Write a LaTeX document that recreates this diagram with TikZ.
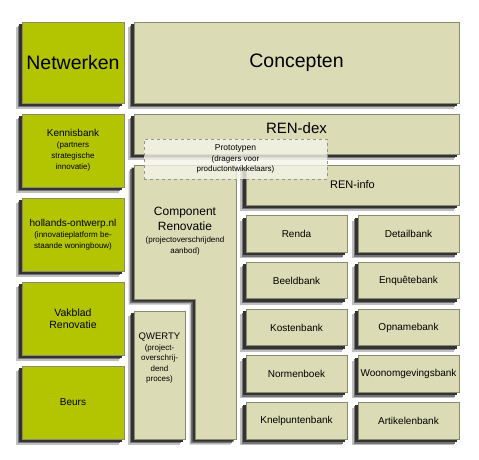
\documentclass[tikz,border=0pt]{standalone}
\usepackage{fontspec}
\setmainfont{Liberation Sans}
\usepackage{tikz}
\usetikzlibrary{positioning, backgrounds}
\definecolor{mygreen}{RGB}{179,196,0}
\definecolor{mybeige}{RGB}{219,219,181}
\definecolor{myedge}{RGB}{138,138,110}
\definecolor{mylight}{RGB}{244,244,232}
\definecolor{mydash}{RGB}{150,150,140}
\newcommand{\subtxt}[1]{{\fontsize{8}{10}\selectfont #1}}
\tikzset{
  greenbox/.style={rectangle, draw=myedge, fill=mygreen,
    minimum width=102pt, minimum height=73pt, align=center,
    font=\fontsize{10}{11}\selectfont, line width=0.6pt, inner sep=1pt},
  beigebox/.style={rectangle, draw=myedge, fill=mybeige,
    align=center, font=\fontsize{10}{11}\selectfont, line width=0.6pt, inner sep=1pt},
  bankbox/.style={beigebox, minimum width=101pt, minimum height=36.5pt},
  protobox/.style={rectangle, draw=mydash, dashed, fill=mylight, fill opacity=0.8,
    text opacity=1, align=center, minimum width=183pt, minimum height=40pt,
    font=\fontsize{8.5}{10.5}\selectfont, line width=0.6pt, inner sep=1pt}
}
\begin{document}
\begin{tikzpicture}[x=1pt, y=-1pt]
  \useasboundingbox (0,0) rectangle (479,460);
  % Netwerken column
  \node[greenbox, minimum height=81pt, font=\fontsize{19.5}{23}\selectfont] (netwerken) at (73,62.5) {Netwerken};
  \node[greenbox] (kennisbank) at (73,150.5) {Kennisbank\\ \subtxt{(partners}\\ \subtxt{strategische}\\ \subtxt{innovatie)}};
  \node[greenbox] (hollands) at (73,234.5) {hollands-ontwerp.nl\\ \subtxt{(innovatieplatform be-}\\ \subtxt{staande woningbouw)}};
  \node[greenbox, font=\fontsize{10.5}{12.5}\selectfont] (vakblad) at (73,318.5) {Vakblad\\ Renovatie};
  \node[greenbox] (beurs) at (73,402.5) {Beurs};

  % Concepten
  \node[beigebox, minimum width=325pt, minimum height=81pt, font=\fontsize{19.5}{23}\selectfont] (concepten) at (296.5,62.5) {Concepten};
  \node[beigebox, minimum width=325pt, minimum height=40pt, font=\fontsize{15}{18}\selectfont, text depth=12pt] (rendex) at (296.5,134) {REN-dex};

  % Component Renovatie (L-shape)
  \draw[draw=myedge, fill=mybeige, line width=0.6pt]
    (134,165) -- (236,165) -- (236,439) -- (195,439) -- (195,299) -- (134,299) -- cycle;
  \node[align=center, font=\fontsize{12}{15}\selectfont] (component) at (185,231) {Component\\ Renovatie\\[-3pt] \subtxt{(projectoverschrijdend}\\[-4pt] \subtxt{aanbod)}};
  \node[beigebox, minimum width=51pt, minimum height=128pt] (qwerty) at (159.5,375) {};
  \node[below=22pt of qwerty.north, align=center, inner sep=0pt, font=\fontsize{9.5}{10.5}\selectfont] (qwertytxt) {QWERTY\\ \subtxt{(project-}\\ \subtxt{overschrij-}\\ \subtxt{dend}\\ \subtxt{proces)}};

  % REN-info
  \node[beigebox, minimum width=213pt, minimum height=40pt, font=\fontsize{11}{13}\selectfont] (reninfo) at (352.5,185) {REN-info};
  \node[bankbox] (renda) at (296.5,234) {Renda};
  \node[bankbox] (detail) at (408.5,234) {Detailbank};
  \node[bankbox] (beeld) at (296.5,280.5) {Beeldbank};
  \node[bankbox] (enquete) at (408.5,280.5) {Enquêtebank};
  \node[bankbox] (kosten) at (296.5,327.5) {Kostenbank};
  \node[bankbox] (opname) at (408.5,327.5) {Opnamebank};
  \node[bankbox] (normen) at (296.5,374) {Normenboek};
  \node[bankbox] (woon) at (408.5,374) {Woonomgevingsbank};
  \node[bankbox] (knelpunt) at (296.5,421) {Knelpuntenbank};
  \node[bankbox] (artikel) at (408.5,421) {Artikelenbank};

  % Prototypen overlay
  \node[protobox] (prototypen) at (235.5,159) {Prototypen\\ \subtxt{(dragers voor}\\ \subtxt{productontwikkelaars)}};

  % Shadows
  \begin{pgfonlayer}{background}
    \foreach \s/\c in {5.5/25, 4/55, 2.5/80} {
      \foreach \n in {netwerken, kennisbank, hollands, vakblad, beurs, concepten, rendex, qwerty,
                      reninfo, renda, detail, beeld, enquete, kosten, opname, normen, woon, knelpunt, artikel}
        \fill[black!\c] ([shift={(-\s pt,-\s pt)}]\n.south west) rectangle ([shift={(-\s pt,-\s pt)}]\n.north east);
      \fill[black!\c, xshift=-\s pt, yshift=-\s pt]
        (134,165) -- (236,165) -- (236,439) -- (195,439) -- (195,299) -- (134,299) -- cycle;
    }
  \end{pgfonlayer}
\end{tikzpicture}
\end{document}
